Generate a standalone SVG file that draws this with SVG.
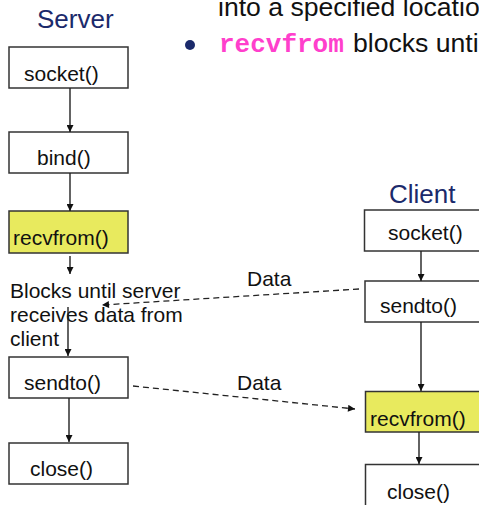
<svg xmlns="http://www.w3.org/2000/svg" width="479" height="505" viewBox="0 0 479 505">
  <style>
    .bg { fill: #ffffff; }
    .box { fill: #ffffff; stroke: #333333; stroke-width: 1.5; }
    .hl { fill: #e8ea5e; }
    .lbl { font-family: "Liberation Sans", Arial, sans-serif; font-size: 21px; fill: #111111; }
    .title { font-family: "Liberation Sans", Arial, sans-serif; font-size: 26px; fill: #1b2a6b; }
    .body { font-family: "Liberation Sans", Arial, sans-serif; font-size: 26.6px; fill: #111111; }
    .code { font-family: "Liberation Mono", "Courier New", monospace; font-size: 26px; font-weight: bold; fill: #ff3fcc; }
    .flow { stroke: #222222; stroke-width: 1.4; fill: none; marker-end: url(#arrow); }
    .msg { stroke: #222222; stroke-width: 1.3; fill: none; stroke-dasharray: 6 4; marker-end: url(#arrow); }
  </style>
  <defs>
    <marker id="arrow" viewBox="0 0 10 10" refX="10" refY="5" markerWidth="8" markerHeight="7" markerUnits="userSpaceOnUse" orient="auto">
      <path d="M0,0 L10,5 L0,10 Z" fill="#111111"/>
    </marker>
  </defs>

  <rect class="bg" x="0" y="0" width="479" height="505"/>

  <!-- slide text above the diagram -->
  <g id="slide-text">
    <text class="body" x="218" y="16">into a specified location</text>
    <circle cx="190" cy="45" r="5" fill="#1b2a6b"/>
    <text class="code" x="219" y="52">recvfrom</text>
    <text class="body" x="353" y="52">blocks until</text>
  </g>

  <!-- column titles -->
  <g id="server-title"><text class="title" x="37" y="28">Server</text></g>
  <g id="client-title"><text class="title" x="389" y="203">Client</text></g>

  <!-- server side -->
  <g id="s-socket">
    <rect class="box" x="9" y="47" width="119" height="41"/>
    <text class="lbl" x="24" y="81">socket()</text>
  </g>
  <g id="s-bind">
    <rect class="box" x="9" y="132" width="119" height="41"/>
    <text class="lbl" x="37" y="165">bind()</text>
  </g>
  <g id="s-recvfrom">
    <rect class="box hl" x="9" y="211" width="119" height="42"/>
    <text class="lbl" x="13" y="245">recvfrom()</text>
  </g>
  <g id="s-blocks">
    <text class="lbl" x="10" y="298">Blocks until server</text>
    <text class="lbl" x="10" y="322">receives data from</text>
    <text class="lbl" x="10" y="346">client</text>
  </g>
  <g id="s-sendto">
    <rect class="box" x="9" y="357" width="119" height="41"/>
    <text class="lbl" x="24" y="390">sendto()</text>
  </g>
  <g id="s-close">
    <rect class="box" x="9" y="443" width="119" height="41"/>
    <text class="lbl" x="30" y="476">close()</text>
  </g>

  <!-- client side -->
  <g id="c-socket">
    <rect class="box" x="364.5" y="210" width="119" height="41"/>
    <text class="lbl" x="388" y="240">socket()</text>
  </g>
  <g id="c-sendto">
    <rect class="box" x="365" y="281" width="119" height="41"/>
    <text class="lbl" x="380" y="313">sendto()</text>
  </g>
  <g id="c-recvfrom">
    <rect class="box hl" x="365.5" y="391.5" width="119" height="40.5"/>
    <text class="lbl" x="370" y="426">recvfrom()</text>
  </g>
  <g id="c-close">
    <rect class="box" x="365.5" y="464.5" width="119" height="45"/>
    <text class="lbl" x="387" y="499">close()</text>
  </g>

  <!-- connectors -->
  <g id="connectors">
    <line class="flow" x1="70" y1="88" x2="70" y2="132"/>
    <line class="flow" x1="70" y1="173" x2="70" y2="211"/>
    <line class="flow" x1="70" y1="256" x2="70" y2="274"/>
    <line class="flow" x1="68" y1="307" x2="68" y2="356"/>
    <line class="flow" x1="69" y1="398" x2="69" y2="442"/>
    <line class="flow" x1="421" y1="251" x2="421" y2="281"/>
    <line class="flow" x1="421" y1="322" x2="421" y2="391"/>
    <line class="flow" x1="419" y1="432" x2="419" y2="464"/>
    <line class="msg" x1="359" y1="289" x2="102" y2="305"/>
    <text class="lbl" x="247" y="286">Data</text>
    <line class="msg" x1="133" y1="386" x2="355" y2="409"/>
    <text class="lbl" x="237" y="390">Data</text>
  </g>
</svg>
